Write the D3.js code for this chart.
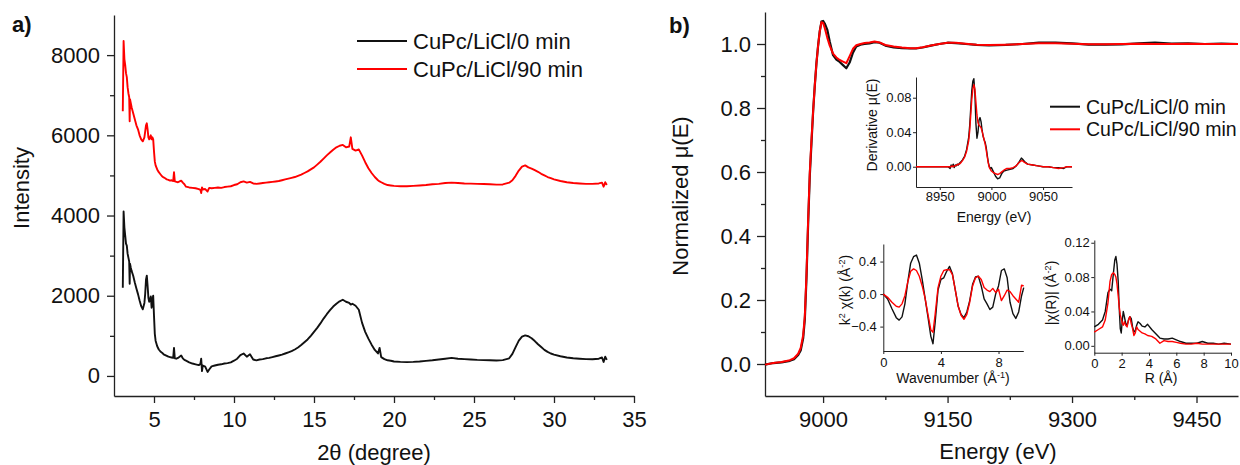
<!DOCTYPE html>
<html>
<head>
<meta charset="utf-8">
<script src="https://cdn.jsdelivr.net/npm/d3@7"></script>
<style>
  html, body { margin: 0; padding: 0; background: #fff; }
  svg { display: block; }
</style>
</head>
<body>
<svg id="fig" width="1240" height="465"></svg>
<script>
// ---------------- Panel a: XRD patterns ----------------
const xrdAngle = [
  3.05,3.10,3.15,3.20,3.25,3.30,3.35,3.40,3.45,3.48,
  3.50,3.55,3.60,3.70,3.80,3.90,4.00,4.10,4.20,4.30,
  4.40,4.45,4.50,4.55,4.60,4.65,4.70,4.75,4.80,4.85,
  4.90,4.95,5.00,5.05,5.10,5.20,5.30,5.40,5.50,5.60,
  5.70,5.80,5.90,6.00,6.10,6.20,6.25,6.30,6.40,6.50,
  6.60,6.70,6.80,6.90,
  7.0,7.2,7.4,7.6,7.8,7.9,7.95,8.0,8.05,8.2,
  8.35,8.45,8.6,8.8,9.0,9.2,9.4,9.6,9.8,10.0,
  10.2,10.4,10.6,10.8,11.0,11.2,11.4,11.6,11.8,12.0,
  12.2,12.4,12.6,12.8,13.0,13.2,13.4,13.6,13.8,14.0,
  14.2,14.4,14.6,14.8,15.0,15.2,15.4,15.6,15.8,16.0,
  16.2,16.4,16.6,16.8,17.0,17.2,17.3,17.4,17.6,17.8,
  18.0,18.2,18.4,18.6,18.8,19.0,19.1,19.2,19.4,19.6,
  19.8,20.0,20.4,20.8,21.2,21.6,22.0,22.4,22.8,23.2,
  23.6,24.0,24.4,24.8,25.2,25.6,26.0,26.4,26.8,27.2,
  27.4,27.6,27.8,28.0,28.2,28.4,28.6,28.8,29.0,29.2,
  29.4,29.6,29.8,30.0,30.4,30.8,31.2,31.6,32.0,32.4,
  32.8,33.0,33.1,33.2,33.3
];
const xrd0min = [
  2200,4100,3700,3500,3300,3250,3050,2950,2850,2300,
  2800,2700,2620,2500,2330,2180,2040,1880,1740,1660,
  1820,2050,2400,2500,2250,1950,1850,1880,1980,1700,
  1900,2000,1500,1050,880,740,660,610,580,540,
  520,500,480,470,460,450,700,440,430,450,
  480,510,440,400,
  380,340,310,290,270,300,430,120,260,230,
  100,160,240,260,280,290,310,320,340,380,
  430,520,560,480,540,410,390,410,420,440,
  450,470,490,510,530,560,590,620,660,710,
  770,840,910,1000,1100,1200,1310,1430,1540,1640,
  1730,1800,1860,1900,1850,1820,1780,1800,1750,1650,
  1330,1100,930,780,650,560,700,470,420,390,
  380,360,350,345,350,360,375,390,410,430,
  450,430,420,410,400,395,390,385,395,440,
  550,720,880,980,1010,990,940,870,790,720,
  650,600,560,530,490,460,440,430,420,415,
  430,460,350,480,400
];
const xrd90min = [
  6600,8350,7900,7750,7550,7450,7200,7050,6950,6350,
  6900,6800,6700,6550,6400,6250,6150,6000,5900,5850,
  5950,6100,6250,6300,6150,5950,5900,5950,6000,5900,
  5950,5900,5600,5350,5250,5150,5080,5030,4980,4950,
  4930,4900,4890,4870,4880,4860,5080,4850,4840,4830,
  4850,4870,4820,4780,
  4720,4700,4690,4680,4660,4640,4560,4700,4650,4660,
  4600,4690,4680,4690,4700,4690,4710,4720,4730,4760,
  4780,4830,4850,4820,4840,4800,4790,4800,4810,4820,
  4830,4840,4850,4860,4880,4900,4920,4940,4960,4990,
  5020,5060,5100,5150,5200,5270,5340,5420,5500,5570,
  5640,5700,5740,5760,5700,5720,5950,5660,5620,5650,
  5500,5330,5180,5060,4960,4880,4850,4830,4790,4760,
  4750,4740,4730,4730,4740,4750,4760,4780,4790,4810,
  4820,4810,4800,4795,4790,4785,4780,4770,4775,4820,
  4880,4990,5120,5220,5250,5200,5170,5130,5090,5040,
  5000,4960,4930,4900,4860,4830,4810,4800,4790,4790,
  4800,4820,4720,4830,4760
];
const xrdXTicks = [5, 10, 15, 20, 25, 30, 35];
const xrdXMinor = [7.5, 12.5, 17.5, 22.5, 27.5, 32.5];
const xrdYTicks = [0, 2000, 4000, 6000, 8000];
const xrdYMinor = [1000, 3000, 5000, 7000];

// ---------------- Panel b: Cu K-edge XANES ----------------
const xanesEnergy = [
  8930,8940,8950,8960,8965,8970,8973,8976,8978,8980,
  8982,8984,8986,8988,8990,8992,8994,8996,8998,9000,
  9002,9005,9008,9012,9016,9020,9024,9028,9032,9036,
  9040,9045,9050,9056,9062,9068,9075,9085,9095,9105,
  9112,9120,9130,9140,9150,9160,9172,9185,9200,9220,
  9240,9260,9280,9300,9320,9340,9360,9380,9400,9420,
  9440,9460,9480,9500
];
const xanes0min = [
  -0.002,0.003,0.005,0.010,0.015,0.028,0.042,0.080,0.140,0.270,
  0.440,0.590,0.690,0.790,0.870,0.940,0.995,1.040,1.070,1.072,
  1.064,1.045,1.008,0.965,0.951,0.944,0.934,0.924,0.942,0.973,
  0.992,0.998,1.000,1.002,1.006,1.004,0.995,0.989,0.987,0.986,
  0.986,0.989,0.995,1.000,1.004,1.003,1.000,0.997,0.996,0.997,
  1.000,1.004,1.004,1.002,0.998,0.998,0.999,1.002,1.004,1.001,
  1.002,1.000,1.001,1.000
];
const xanes90min = [
  -0.002,0.003,0.006,0.012,0.018,0.032,0.050,0.090,0.150,0.280,
  0.450,0.600,0.700,0.790,0.870,0.940,0.995,1.040,1.068,1.066,
  1.050,1.020,0.995,0.970,0.958,0.950,0.945,0.940,0.962,0.985,
  0.996,1.000,1.003,1.005,1.008,1.005,0.997,0.992,0.989,0.987,
  0.987,0.990,0.995,1.000,1.004,1.004,1.001,0.998,0.997,0.998,
  1.000,1.002,1.002,1.001,0.999,0.999,1.000,1.001,1.000,1.000,
  1.001,1.000,1.000,1.000
];
const xanesXTicks = [9000, 9150, 9300, 9450];
const xanesXMinor = [9075, 9225, 9375];
const xanesYTicks = [0, 0.2, 0.4, 0.6, 0.8, 1.0];
const xanesYMinor = [0.1, 0.3, 0.5, 0.7, 0.9];

// Inset: first derivative of mu(E)
const derivEnergy = [
  8927,8940,8955,8958,8960,8961,8962,8963,8964,8965,
  8966,8967,8968,8969,8970,8972,8974,8976,8978,8979,
  8980,8981,8982,8983,8984,8985,8986,8987,8988,8989,
  8990,8991,8992,8993,8994,8995,8996,8997,8998,8999,
  9000,9002,9004,9006,9008,9010,9012,9015,9018,9021,
  9024,9026,9028,9029,9030,9032,9035,9040,9045,9050,
  9055,9060,9065,9070,9073,9078
];
const deriv0min = [
  0,0,0,0.000,-0.002,0.002,0.000,0.003,-0.001,0.002,
  0.001,0.003,0.002,0.004,0.005,0.008,0.012,0.020,0.034,0.048,
  0.068,0.088,0.099,0.102,0.085,0.050,0.033,0.040,0.054,0.057,
  0.052,0.042,0.035,0.031,0.028,0.022,0.013,0.005,0.000,-0.002,
  -0.001,-0.006,-0.011,-0.014,-0.013,-0.008,-0.005,-0.004,-0.003,-0.002,
  0.001,0.004,0.008,0.010,0.009,0.006,0.003,0.002,0.001,0.000,
  0.000,-0.001,-0.001,-0.002,0.000,0.000
];
const deriv90min = [
  0,0,0,0,0,0.000,0.001,0.000,0.001,0.001,
  0.002,0.002,0.003,0.003,0.004,0.007,0.011,0.018,0.030,0.042,
  0.060,0.078,0.090,0.095,0.090,0.075,0.060,0.051,0.048,0.047,
  0.045,0.041,0.036,0.031,0.026,0.019,0.011,0.004,-0.001,-0.003,
  -0.005,-0.007,-0.008,-0.009,-0.008,-0.006,-0.004,-0.002,-0.002,-0.001,
  0.001,0.004,0.006,0.007,0.007,0.005,0.003,0.002,0.001,0.000,
  0.000,-0.001,-0.002,-0.001,0.000,0.000
];
const derivXTicks = [8950, 9000, 9050];
const derivYTicks = [0, 0.04, 0.08];

// Inset: k^2-weighted EXAFS
const kValues = [
  0,0.3,0.6,0.9,1.1,1.3,1.5,1.7,1.9,2.1,
  2.3,2.5,2.7,2.9,3.1,3.3,3.45,3.6,3.8,4.0,
  4.2,4.4,4.6,4.8,5.0,5.2,5.4,5.6,5.8,6.0,
  6.2,6.4,6.6,6.8,7.0,7.2,7.4,7.6,7.8,8.0,
  8.2,8.4,8.6,8.8,9.0,9.2,9.4,9.6,9.75
];
const chiK0min = [
  0.00,-0.06,-0.18,-0.29,-0.32,-0.28,-0.12,0.15,0.38,0.46,
  0.48,0.38,0.18,-0.05,-0.28,-0.52,-0.61,-0.35,0.05,0.18,
  0.20,0.28,0.34,0.25,0.05,-0.15,-0.25,-0.29,-0.22,-0.08,
  0.12,0.21,0.22,0.10,-0.06,-0.12,-0.19,-0.16,0.00,0.10,
  0.29,0.31,0.20,-0.10,-0.24,-0.30,-0.22,-0.02,0.08
];
const chiK90min = [
  0.00,-0.04,-0.10,-0.15,-0.16,-0.12,-0.02,0.15,0.28,0.31,
  0.29,0.22,0.10,-0.05,-0.25,-0.44,-0.47,-0.25,0.08,0.22,
  0.29,0.30,0.30,0.24,0.05,-0.15,-0.26,-0.31,-0.25,-0.10,
  0.10,0.20,0.22,0.18,0.08,0.05,0.03,0.07,0.02,0.06,
  -0.08,-0.02,0.05,0.03,-0.02,-0.06,-0.10,0.11,0.10
];
const kXTicks = [0, 4, 8];
const kYTicks = [-0.4, 0, 0.4];

// Inset: Fourier transform magnitude
const rValues = [
  0,0.3,0.6,0.8,1.0,1.15,1.27,1.4,1.5,1.58,
  1.66,1.75,1.82,1.9,1.97,2.05,2.12,2.2,2.3,2.4,
  2.5,2.6,2.7,2.8,2.9,3.0,3.1,3.2,3.35,3.5,
  3.7,3.9,4.2,4.5,4.8,5.1,5.4,5.7,6.0,6.3,
  6.7,7.1,7.5,7.9,8.3,8.7,9.1,9.5,10.0
];
const chiR0min = [
  0.022,0.025,0.030,0.040,0.062,0.066,0.064,0.085,0.100,0.104,
  0.095,0.075,0.045,0.020,0.015,0.030,0.040,0.034,0.026,0.024,
  0.030,0.034,0.032,0.022,0.016,0.018,0.024,0.028,0.026,0.023,
  0.022,0.025,0.019,0.014,0.009,0.008,0.008,0.009,0.007,0.005,
  0.003,0.003,0.003,0.005,0.003,0.003,0.002,0.003,0.002
];
const chiR90min = [
  0.016,0.019,0.022,0.030,0.050,0.075,0.083,0.085,0.083,0.080,
  0.072,0.058,0.046,0.036,0.032,0.026,0.024,0.028,0.024,0.022,
  0.030,0.034,0.026,0.020,0.012,0.015,0.022,0.019,0.017,0.015,
  0.014,0.012,0.011,0.008,0.003,0.006,0.005,0.005,0.004,0.003,
  0.002,0.002,0.003,0.002,0.002,0.002,0.002,0.002,0.002
];
const rXTicks = [0, 2, 4, 6, 8, 10];
const rYTicks = [0, 0.04, 0.08, 0.12];

const seriesNames = ["CuPc/LiCl/0 min", "CuPc/LiCl/90 min"];
const seriesColors = ["#111111", "#ff0000"];

// ---------------- drawing ----------------
const FONT = '"Liberation Sans", Arial, Helvetica, sans-serif';
const AXIS = "#222";
const svg = d3.select("#fig");
svg.append("rect").attr("width", 1240).attr("height", 465).attr("fill", "#fff");

function axis(scale, orient, pos, o) {
  const make = orient === "left" ? d3.axisLeft : d3.axisBottom;
  const tr = orient === "left" ? `translate(${pos},0)` : `translate(0,${pos})`;
  const main = make(scale).tickValues(o.ticks).tickFormat(o.format)
    .tickSize(o.size).tickSizeOuter(0).tickPadding(o.pad);
  const g = svg.append("g").attr("transform", tr).call(main)
    .attr("font-family", FONT).attr("font-size", o.font);
  g.select(".domain").attr("stroke", AXIS).attr("stroke-width", o.sw);
  g.selectAll(".tick line").attr("stroke", AXIS).attr("stroke-width", o.sw);
  g.selectAll(".tick text").attr("fill", "#111");
  if (o.minor) {
    const mg = svg.append("g").attr("transform", tr)
      .call(make(scale).tickValues(o.minor).tickFormat("").tickSize(o.minorSize).tickSizeOuter(0));
    mg.select(".domain").remove();
    mg.selectAll(".tick line").attr("stroke", AXIS).attr("stroke-width", o.sw);
  }
}

function curve(xs, ys, xScale, yScale, color, width) {
  const pts = xs.map((x, i) => [x, ys[i]]);
  svg.append("path")
    .attr("d", d3.line().x(d => xScale(d[0])).y(d => yScale(d[1]))(pts))
    .attr("fill", "none").attr("stroke", color).attr("stroke-width", width)
    .attr("stroke-linejoin", "round");
}

function label(x, y, text, size, opts = {}) {
  const t = svg.append("text").attr("font-family", FONT).attr("font-size", size)
    .attr("fill", "#111").attr("text-anchor", opts.anchor || "middle");
  if (opts.rotate) t.attr("transform", `translate(${x},${y}) rotate(-90)`);
  else t.attr("x", x).attr("y", y);
  if (opts.bold) t.attr("font-weight", "bold");
  if (Array.isArray(text)) {
    text.forEach(part => {
      const s = t.append("tspan").text(part.t);
      if (part.sup) s.attr("font-size", size * 0.65).attr("dy", -size * 0.38);
      if (part.after) s.attr("dy", size * 0.38);
    });
  } else t.text(text);
  return t;
}

// ----- panel a -----
const xA = d3.scaleLinear([2.5, 35], [114, 634]);
const yA = d3.scaleLinear([-500, 9000], [396, 15]);
axis(yA, "left", 114, { ticks: xrdYTicks, format: d3.format("d"), size: 7, pad: 7, font: 22, sw: 1.3, minor: xrdYMinor, minorSize: 4 });
axis(xA, "bottom", 396, { ticks: xrdXTicks, format: d3.format("d"), size: 7, pad: 8, font: 22, sw: 1.3, minor: xrdXMinor, minorSize: 4 });
curve(xrdAngle, xrd0min, xA, yA, seriesColors[0], 1.9);
curve(xrdAngle, xrd90min, xA, yA, seriesColors[1], 1.9);
label(12, 32, "a)", 22, { anchor: "start", bold: true });
label(374, 460, "2θ (degree)", 22);
label(29, 188, "Intensity", 22, { rotate: true });
seriesNames.forEach((n, i) => {
  const y = 41 + i * 28;
  svg.append("line").attr("x1", 357).attr("x2", 407).attr("y1", y).attr("y2", y)
    .attr("stroke", seriesColors[i]).attr("stroke-width", 2);
  label(413, y + 8, n, 22, { anchor: "start" });
});

// ----- panel b -----
const xB = d3.scaleLinear([8930, 9500], [765, 1238]);
const yB = d3.scaleLinear([-0.1, 1.1], [396, 12]);
axis(yB, "left", 765, { ticks: xanesYTicks, format: d3.format(".1f"), size: 8, pad: 6, font: 22, sw: 1.3, minor: xanesYMinor, minorSize: 4 });
axis(xB, "bottom", 396, { ticks: xanesXTicks, format: d3.format("d"), size: 7, pad: 8, font: 22, sw: 1.3, minor: xanesXMinor, minorSize: 4 });
curve(xanesEnergy, xanes0min, xB, yB, seriesColors[0], 2.2);
curve(xanesEnergy, xanes90min, xB, yB, seriesColors[1], 2);
label(669, 33, "b)", 22, { anchor: "start", bold: true });
label(998, 459, "Energy (eV)", 22);
label(688, 196, "Normalized μ(E)", 22, { rotate: true });
seriesNames.forEach((n, i) => {
  const y = 106.7 + i * 22.6;
  svg.append("line").attr("x1", 1050).attr("x2", 1080).attr("y1", y).attr("y2", y)
    .attr("stroke", seriesColors[i]).attr("stroke-width", 2);
  label(1086, y + 6.8, n, 19.5, { anchor: "start" });
});

// derivative inset
const xD = d3.scaleLinear([8927, 9078], [916, 1072]);
const yD = d3.scaleLinear([-0.0235, 0.104], [187, 77]);
axis(yD, "left", 916, { ticks: derivYTicks, format: d3.format(".2f"), size: 3, pad: 1.5, font: 13, sw: 1 });
axis(xD, "bottom", 187, { ticks: derivXTicks, format: d3.format("d"), size: 3, pad: 1.5, font: 13, sw: 1 });
curve(derivEnergy, deriv0min, xD, yD, seriesColors[0], 1.4);
curve(derivEnergy, deriv90min, xD, yD, seriesColors[1], 1.4);
label(877, 125, "Derivative μ(E)", 14, { rotate: true });
label(994, 222, "Energy (eV)", 14);

// k-space inset
const xK = d3.scaleLinear([0, 9.72], [883.3, 1023.3]);
const yK = d3.scaleLinear([-0.7, 0.616], [351, 244]);
axis(yK, "left", 883.3, { ticks: kYTicks, format: d3.format(".1f"), size: 3, pad: 3.5, font: 13, sw: 1 });
axis(xK, "bottom", 351, { ticks: kXTicks, format: d3.format("d"), size: 3, pad: 3.5, font: 13, sw: 1 });
curve(kValues, chiK0min, xK, yK, seriesColors[0], 1.4);
curve(kValues, chiK90min, xK, yK, seriesColors[1], 1.4);
label(850, 290, [{ t: "k" }, { t: "2", sup: true }, { t: " χ(k) (Å", after: true }, { t: "-2", sup: true }, { t: ")", after: true }], 14, { rotate: true });
label(953, 383, [{ t: "Wavenumber (Å" }, { t: "-1", sup: true }, { t: ")", after: true }], 14);

// R-space inset
const xR = d3.scaleLinear([0, 10], [1094.3, 1231]);
const yR = d3.scaleLinear([-0.008, 0.1232], [352.7, 240]);
axis(yR, "left", 1094.3, { ticks: rYTicks, format: d3.format(".2f"), size: 3, pad: 1.5, font: 13, sw: 1 });
axis(xR, "bottom", 352.7, { ticks: rXTicks, format: d3.format("d"), size: 3, pad: 3, font: 13, sw: 1 });
curve(rValues, chiR0min, xR, yR, seriesColors[0], 1.4);
curve(rValues, chiR90min, xR, yR, seriesColors[1], 1.4);
label(1056, 293, [{ t: "|χ(R)| (Å" }, { t: "-2", sup: true }, { t: ")", after: true }], 14, { rotate: true });
label(1161, 383, "R (Å)", 14);
</script>
</body>
</html>
